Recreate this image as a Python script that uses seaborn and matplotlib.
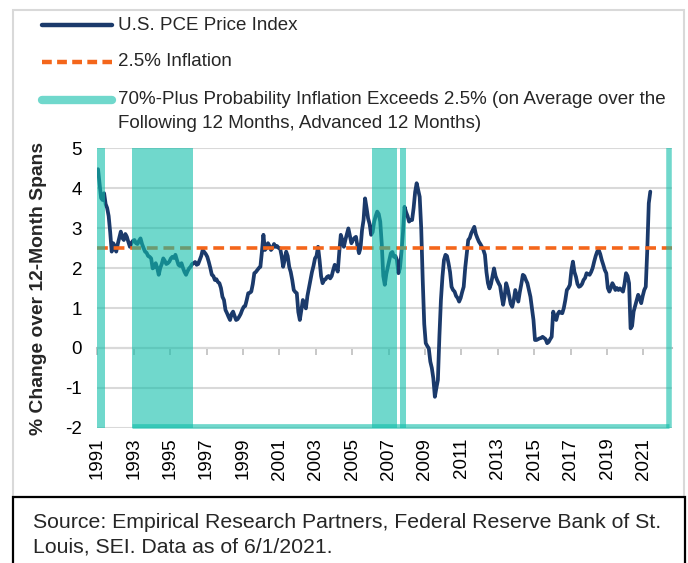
import matplotlib
matplotlib.use("Agg")
import matplotlib.pyplot as plt
from matplotlib.lines import Line2D
from matplotlib.patches import Rectangle
import numpy as np
import pandas as pd
import seaborn as sns

# monthly PCE y/y % change, Jan 1991 .. May 2021
pce_1990s = [
    4.47, 4.10, 3.75, 3.70, 3.87, 3.60, 3.50, 3.30, 2.90, 2.41, 2.62, 2.55,
    2.41, 2.60, 2.75, 2.91, 2.75, 2.70, 2.85, 2.78, 2.65, 2.53, 2.62, 2.68,
    2.70, 2.62, 2.60, 2.68, 2.74, 2.60, 2.50, 2.41, 2.38, 2.30, 2.28, 2.24,
    1.99, 2.02, 2.12, 2.00, 1.83, 2.00, 2.10, 2.24, 2.18, 2.10, 2.12, 2.16,
    2.24, 2.28, 2.25, 2.33, 2.20, 2.08, 2.05, 2.12, 2.00, 1.90, 1.83, 1.92,
    1.99, 2.03, 2.10, 2.12, 2.15, 2.08, 2.10, 2.20, 2.30, 2.45, 2.40, 2.35,
    2.28, 2.15, 2.00, 1.83, 1.80, 1.70, 1.72, 1.65, 1.62, 1.50, 1.28, 1.20,
    0.95, 0.87, 0.78, 0.70, 0.85, 0.91, 0.80, 0.70, 0.72, 0.78, 0.85, 0.95,
    1.03, 1.05, 1.20, 1.37, 1.38, 1.41, 1.60, 1.87, 1.90, 1.95, 2.00, 2.03,
]
pce_2000s = [
    2.40, 2.83, 2.45, 2.50, 2.62, 2.55, 2.45, 2.50, 2.60, 2.53, 2.55, 2.50,
    2.49, 2.30, 2.03, 2.20, 2.41, 2.30, 2.03, 1.90, 1.70, 1.45, 1.40, 1.37,
    0.90, 0.70, 0.95, 1.20, 1.10, 0.99, 1.30, 1.50, 1.70, 1.90, 2.05, 2.24,
    2.30, 2.53, 2.20, 1.80, 1.62, 1.70, 1.72, 1.78, 1.80, 1.74, 1.80, 1.95,
    2.08, 2.00, 1.91, 2.40, 2.83, 2.70, 2.53, 2.70, 2.85, 2.99, 2.80, 2.62,
    2.70, 2.75, 2.78, 2.55, 2.37, 2.50, 2.95, 3.20, 3.74, 3.50, 3.24, 3.10,
    2.83, 2.90, 3.16, 3.30, 3.41, 3.35, 3.16, 2.60, 1.80, 1.58, 1.85, 2.03,
    2.20, 2.37, 2.40, 2.28, 2.30, 2.20, 1.87, 2.00, 2.40, 2.90, 3.53, 3.40,
    3.30, 3.16, 3.20, 3.20, 3.50, 3.90, 4.12, 3.95, 3.78, 3.00, 1.70, 0.60,
    0.12, 0.05, -0.01, -0.34, -0.50, -0.76, -1.22, -1.00, -0.80, 0.30, 1.20, 1.78,
]
pce_2010s = [
    2.20, 2.33, 2.30, 2.12, 1.90, 1.53, 1.45, 1.41, 1.30, 1.25, 1.16, 1.25,
    1.40, 1.53, 2.00, 2.35, 2.70, 2.75, 2.87, 2.95, 3.03, 2.85, 2.75, 2.66,
    2.60, 2.53, 2.45, 2.33, 1.90, 1.62, 1.49, 1.60, 1.80, 1.99, 1.80, 1.70,
    1.62, 1.55, 1.30, 1.08, 1.30, 1.62, 1.49, 1.30, 1.10, 1.03, 1.20, 1.45,
    1.30, 1.16, 1.40, 1.60, 1.83, 1.80, 1.70, 1.62, 1.45, 1.28, 1.00, 0.70,
    0.20, 0.20, 0.22, 0.24, 0.25, 0.28, 0.25, 0.22, 0.12, 0.15, 0.22, 0.28,
    0.91, 0.78, 0.70, 0.85, 0.91, 0.88, 0.87, 1.00, 1.20, 1.45, 1.50, 1.58,
    1.95, 2.16, 1.90, 1.78, 1.60, 1.53, 1.55, 1.60, 1.70, 1.75, 1.87, 1.85,
    1.83, 1.90, 2.00, 2.16, 2.30, 2.41, 2.45, 2.35, 2.20, 2.08, 1.95, 1.87,
    1.50, 1.41, 1.50, 1.62, 1.55, 1.45, 1.50, 1.45, 1.49, 1.45, 1.41, 1.60,
]
pce_2020s = [
    1.87, 1.80, 1.62, 0.49, 0.55, 0.91, 1.05, 1.20, 1.33, 1.25, 1.12, 1.30,
    1.45, 1.53, 2.45, 3.62, 3.91,
]

# periods with 70%-plus probability that inflation exceeds 2.5%
shade_start = [1991.0, 1992.92, 2006.09, 2007.65]
shade_end = [1991.4, 1996.24, 2007.48, 2007.94]

target = 2.5
year_ticks = list(range(1991, 2022, 2))
y_ticks = list(range(-2, 6))

labels = [
    "U.S. PCE Price Index",
    "2.5% Inflation",
    "70%-Plus Probability Inflation Exceeds 2.5% (on Average over the\n"
    "Following 12 Months, Advanced 12 Months)",
]
source = ("Source: Empirical Research Partners, Federal Reserve Bank of St.\n"
          "Louis, SEI. Data as of 6/1/2021.")

NAVY = "#1B3A6B"
ORANGE = "#F4661B"
TEAL = "#11BEAA"
TEAL_LIGHT = "#70D8CC"
GRID = "#D9D9D9"

values = pce_1990s + pce_2000s + pce_2010s + pce_2020s
df = pd.DataFrame({
    "year": 1991 + (np.arange(len(values)) + 0.5) / 12,
    "pce": values,
})
x_end = 2022.4

sns.set_style("white")
plt.rcParams["font.family"] = ["Liberation Sans", "DejaVu Sans"]
plt.rcParams["axes.unicode_minus"] = False

fig = plt.figure(figsize=(6.88, 5.63), dpi=100)
ax = fig.add_axes([0.1414, 0.2398, 0.8349, 0.4973])

sns.lineplot(data=df, x="year", y="pce", ax=ax, color=NAVY, lw=2.7,
             zorder=2)
ax.axhline(target, color=ORANGE, lw=2.6, dashes=(3, 1.6), zorder=2.5)

for s, e in zip(shade_start, shade_end):
    ax.axvspan(s, e, color=TEAL, alpha=0.6, lw=0, zorder=3)
# outline of the shaded area series along the bottom and right edge
ax.plot([shade_start[1], x_end], [-1.95, -1.95], color=TEAL, alpha=0.6,
        lw=3.4, solid_capstyle="butt", zorder=3, clip_on=False)
ax.plot([x_end, x_end], [-2, 5], color=TEAL, alpha=0.6, lw=4,
        solid_capstyle="butt", zorder=3)

ax.set_xlim(1991, 2022.55)
ax.set_ylim(-2, 5)
ax.set_yticks(y_ticks)
ax.set_xticks(year_ticks)
ax.set_xticklabels([str(y) for y in year_ticks], rotation=90)
ax.grid(axis="y", color=GRID, lw=1.5)
ax.grid(axis="x", visible=False)
for sp in ax.spines.values():
    sp.set_visible(False)
ax.tick_params(axis="both", length=0, labelsize=13.5, colors="black")
ax.tick_params(axis="y", pad=11)
ax.tick_params(axis="x", pad=7)
ax.set_xlabel("")
ax.set_ylabel("% Change over 12-Month Spans", fontsize=13.9,
              fontweight="bold", labelpad=13)

# category axis crossing at zero, with small tick marks
zero_axis = ax.secondary_xaxis(2 / 7)
zero_axis.set_xticks(year_ticks)
zero_axis.tick_params(length=5, width=1.2, color="#BFBFBF", direction="out",
                      labelbottom=False)
zero_axis.spines["bottom"].set_color("#BFBFBF")
zero_axis.spines["bottom"].set_linewidth(1.5)

# legend drawn at the top of the frame
W, H = 688, 563
handles = [
    dict(color=NAVY, lw=3.2),
    dict(color=ORANGE, lw=3.2, dashes=(2.2, 1.2)),
    dict(color=TEAL_LIGHT, lw=6, solid_capstyle="round"),
]
rows = [25, 62, 100]
for lab, style, yp in zip(labels, handles, rows):
    yf = 1 - yp / H
    fig.add_artist(Line2D([42 / W, 112 / W], [yf, yf], **style))
    for k, part in enumerate(lab.split("\n")):
        fig.text(118 / W, 1 - (yp + 24 * k) / H, part, fontsize=13.5,
                 va="center")

# outer frame and source box
fig.add_artist(Rectangle((13 / W, 1 - 497 / H), 671 / W, 487 / H,
                         transform=fig.transFigure, fill=False,
                         edgecolor=GRID, lw=1.5))
fig.add_artist(Rectangle((13 / W, -0.05), 672 / W, 0.05 + 1 - 497 / H,
                         transform=fig.transFigure, fill=False,
                         edgecolor="black", lw=1.6))
for k, part in enumerate(source.split("\n")):
    fig.text(33 / W, 1 - (523 + 24 * k) / H, part, fontsize=15.3,
             va="center")

fig.savefig("out.png", dpi=100)
